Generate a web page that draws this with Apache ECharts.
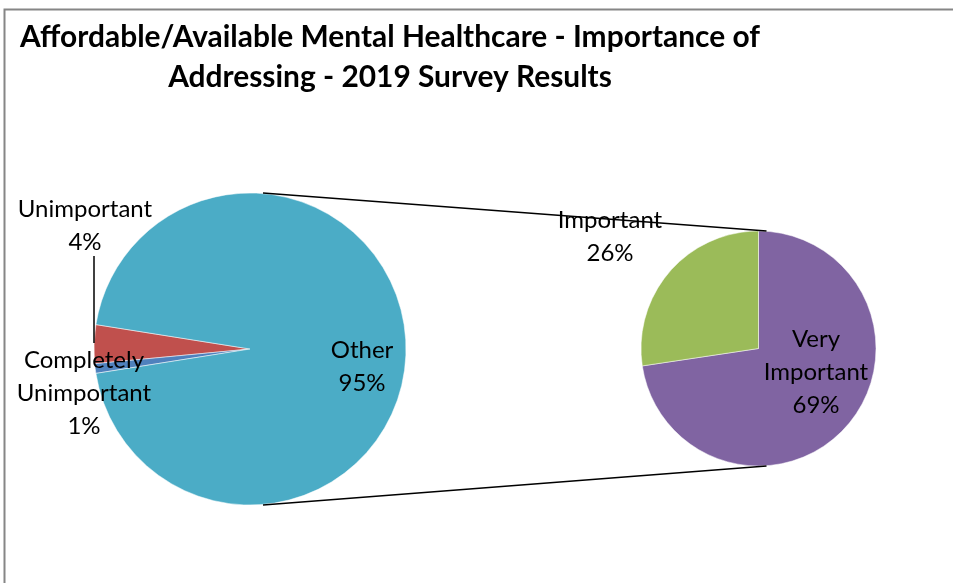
<!DOCTYPE html>
<html><head><meta charset="utf-8">
<script src="https://cdn.jsdelivr.net/npm/echarts@6/dist/echarts.min.js"></script>
<style>html,body{margin:0;padding:0;background:#fff}#c{width:953px;height:583px}</style>
</head><body><div id="c"></div>
<script>
const titleLines = ['Affordable/Available Mental Healthcare - Importance of', 'Addressing - 2019 Survey Results'];
const primaryNames = ['Unimportant', 'Completely Unimportant', 'Other'];
const primaryValues = [4, 1, 95];
const primaryColors = ['#C0504D', '#4F81BD', '#4BACC6'];
const secondaryNames = ['Very Important', 'Important'];
const secondaryValues = [69, 26];
const secondaryColors = ['#8064A2', '#9BBB59'];

const FONT = 'Lato';
const L = {cx: 250, cy: 349, r: 156};
const R = {cx: 758.5, cy: 348.5, r: 117.5};
const primaryLabelPos = [[85, 226], [84, 393], [362, 367]];
const secondaryLabelPos = [[816, 372], [610, 237]];

const chart = echarts.init(document.getElementById('c'), null, {renderer: 'canvas'});
const fmt = p => p.name.replace(' ', '\n') + '\n' + p.value + '%';
const labelStyle = {show: true, position: 'inside', overflow: 'none', formatter: fmt, fontFamily: FONT, fontSize: 24, lineHeight: 33, color: '#000', align: 'center'};

chart.setOption({
  animation: false,
  backgroundColor: '#fff',
  title: {
    text: titleLines.join('\n'),
    left: 385, top: 12, textAlign: 'center',
    textStyle: {fontFamily: FONT, fontWeight: 'bold', fontSize: 29.9, lineHeight: 40, color: '#000', align: 'center'}
  },
  graphic: [
    {type: 'rect', shape: {x: 4.5, y: 9.5, width: 1000, height: 1000}, style: {fill: 'none', stroke: '#868686', lineWidth: 2}, z: 100},
    {type: 'line', shape: {x1: L.cx + 13, y1: L.cy - L.r, x2: R.cx + 8, y2: R.cy - R.r}, style: {stroke: '#000', lineWidth: 1.5}, z: 100},
    {type: 'line', shape: {x1: L.cx + 13, y1: L.cy + L.r, x2: R.cx + 8, y2: R.cy + R.r}, style: {stroke: '#000', lineWidth: 1.5}, z: 100},
    {type: 'line', shape: {x1: 94, y1: 256, x2: 94, y2: 343}, style: {stroke: '#000', lineWidth: 1.5}, z: 100}
  ],
  series: [
    {
      type: 'pie', center: [L.cx, L.cy], radius: L.r, startAngle: 171, clockwise: false,
      data: primaryNames.map((n, i) => ({name: n, value: primaryValues[i], itemStyle: {color: primaryColors[i]}})),
      itemStyle: {borderColor: '#fff', borderWidth: 0.5},
      label: labelStyle, labelLine: {show: false},
      labelLayout: p => ({x: primaryLabelPos[p.dataIndex][0], y: primaryLabelPos[p.dataIndex][1], align: 'center', verticalAlign: 'middle'}),
      emphasis: {disabled: true}
    },
    {
      type: 'pie', center: [R.cx, R.cy], radius: R.r, startAngle: 90, clockwise: true,
      data: secondaryNames.map((n, i) => ({name: n, value: secondaryValues[i], itemStyle: {color: secondaryColors[i]}})),
      itemStyle: {borderColor: '#fff', borderWidth: 0.5},
      label: labelStyle, labelLine: {show: false},
      labelLayout: p => ({x: secondaryLabelPos[p.dataIndex][0], y: secondaryLabelPos[p.dataIndex][1], align: 'center', verticalAlign: 'middle'}),
      emphasis: {disabled: true}
    }
  ]
});
</script></body></html>
